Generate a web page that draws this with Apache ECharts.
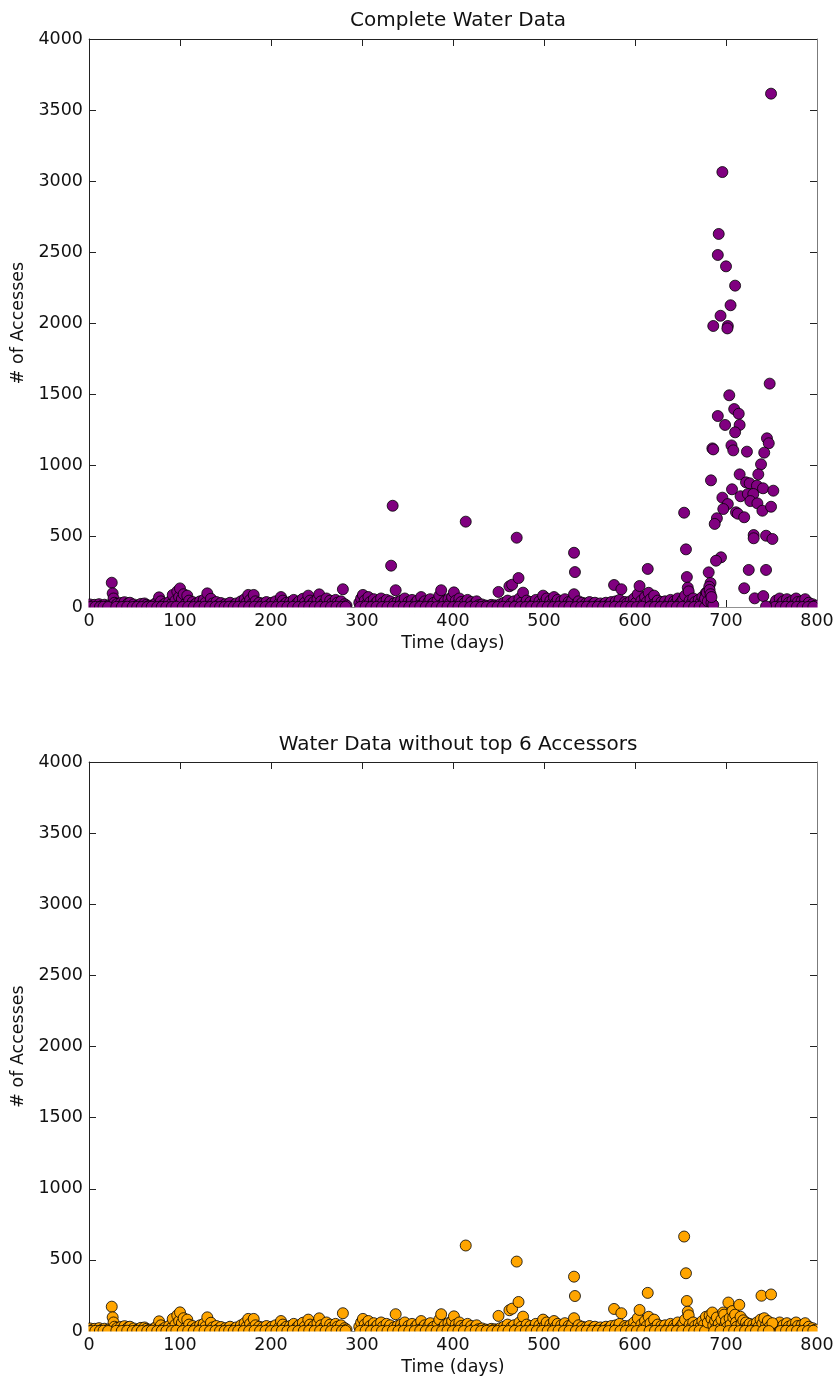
<!DOCTYPE html>
<html>
<head>
<meta charset="utf-8">
<script src="https://cdn.jsdelivr.net/npm/echarts@6/dist/echarts.min.js"></script>
<style>
  html, body { margin: 0; padding: 0; background: #fff; }
  #chart { width: 838px; height: 1381px; }
</style>
</head>
<body>
<div id="chart"></div>
<script>
// Daily access counts: [day, accesses]
const xTicks = [0, 100, 200, 300, 400, 500, 600, 700, 800];
const yTicks = [0, 500, 1000, 1500, 2000, 2500, 3000, 3500, 4000];

// Everyday traffic, present in both views
const baseline = [
  [1,18],[3,5],[6,15],[9,2],[11,20],[14,8],[17,16],[19,3],[22,12],
  [25,171],[26,96],[27,60],[28,30],[29,8],
  [31,22],[33,5],[35,28],[37,15],[39,34],[41,10],[43,25],[45,30],[47,6],[49,18],
  [52,4],[54,12],[57,22],[59,8],[61,25],[63,15],[65,5],[67,10],[70,3],[72,18],[74,30],
  [77,68],[79,40],[81,12],[84,25],[86,5],[88,35],[90,18],
  [92,85],[95,45],[97,110],[99,70],[100,131],[101,30],[102,56],[104,90],[106,20],[108,80],[110,45],[112,10],
  [114,35],[116,15],[118,25],[120,5],[122,40],[124,20],[126,50],[128,30],[130,96],[132,15],[134,58],[136,25],[138,8],
  [140,35],[142,12],[145,28],[147,5],[150,20],[152,10],[155,30],[157,3],[160,15],[162,25],[165,8],[167,40],[169,18],
  [171,55],[173,30],[175,85],[177,50],[179,20],[181,85],[183,40],[185,12],[187,30],[189,5],[191,25],[193,15],[195,35],[197,8],[199,20],
  [201,30],[203,12],[205,40],[207,5],[209,25],[211,70],[213,45],[215,18],[217,30],[219,8],[221,35],[223,20],[225,50],[227,12],[229,28],[231,40],[233,15],[235,58],[237,30],[239,10],
  [241,80],[243,45],[245,20],[247,35],[249,10],[251,55],[253,89],[255,40],[257,18],[259,30],[261,60],[263,12],[265,45],[267,25],[269,8],[271,50],[273,30],[275,15],[277,40],[279,125],[281,20],[283,10],
  [297,30],[299,60],[301,85],[303,45],[305,20],[307,70],[309,35],[311,10],[313,55],[315,25],[317,40],[319,15],[321,60],[323,30],[325,8],[327,50],[329,20],[331,40],[335,25],[337,118],[339,35],
  [341,15],[343,45],[345,25],[347,60],[349,10],[351,35],[353,20],[355,50],[357,8],[359,30],[361,45],[363,15],[365,70],[367,25],[369,40],[371,10],[373,35],[375,55],[377,20],[379,30],[381,8],[383,45],[385,80],[387,118],[389,25],
  [391,40],[393,12],[395,55],[397,30],[399,70],[401,103],[403,45],[405,20],[407,60],[409,35],[411,10],[413,30],[414,601],[416,50],[418,15],[420,35],[422,8],[424,25],[426,40],[428,12],
  [430,5],[432,18],[434,3],[436,10],[438,2],[440,8],[442,15],[444,4],[446,12],[448,6],[450,106],[452,20],
  [454,8],[456,30],[458,15],[460,45],[462,146],[464,25],[465,157],[467,40],[469,10],[470,488],[472,204],[473,60],[475,30],[477,101],[479,20],
  [481,45],[483,15],[485,35],[487,5],[489,25],[491,50],[493,12],[495,40],[497,20],[499,80],[501,35],[503,60],[505,15],[507,45],[509,25],[511,70],[513,30],[515,50],[517,10],[519,40],[521,20],[523,55],[525,12],[527,35],[529,25],[531,45],[533,382],[533,90],[534,246],[536,20],[538,40],
  [540,15],[542,30],[544,5],[546,25],[548,12],[550,35],[552,8],[554,20],[556,30],[558,5],[560,15],[562,25],[564,8],[566,18],[568,30],[570,10],[572,22],[574,35],[576,12],[577,155],[579,40],[581,20],[583,50],[585,125],[587,15],[589,35],[591,25],[593,10],[595,40],[597,20],[599,60],
  [601,30],[603,90],[605,148],[607,45],[609,20],[611,70],[613,35],[614,268],[615,100],[617,55],[619,15],[621,80],[623,30],[625,45],[627,12],[629,35],[631,20],[633,40],[635,8],[637,25],[639,50],[641,15],[643,40],[645,30],[647,60],[649,20],[651,35],[653,55],
  [654,664],[655,80],[656,406],[657,211],[658,136],[659,110],[660,45],[662,25],[664,60],[666,35],[668,15],[670,50],[672,30],[674,70],[676,45],[678,100],[679,20],
  [753,20],[755,45],[757,10],[759,60],[761,25],[763,40],[765,8],[767,55],[769,30],[771,15],[773,45],[775,20],[777,60],[779,35],[781,10],[783,40],[785,20],[787,55],[789,15],[791,30],[793,8],[795,20],[797,5],[799,10]
];

// Days with (almost) no accesses
const quietDays = [
  [2,0],[7,1],[12,0],[16,2],[21,0],[30,1],[36,0],[42,2],[48,0],[53,1],[58,0],[64,0],[69,2],[75,0],[80,1],[85,0],[91,0],[96,2],
  [103,0],[109,1],[115,0],[121,0],[127,2],[133,0],[139,1],[144,0],[149,0],[154,2],[159,0],[164,1],[170,0],[176,0],[182,2],[188,0],[194,1],
  [200,0],[206,0],[212,2],[218,0],[224,1],[230,0],[236,0],[242,2],[248,0],[254,1],[260,0],[266,0],[272,2],[278,0],[282,1],
  [298,0],[304,2],[310,0],[316,1],[322,0],[328,0],[334,2],[340,0],[346,1],[352,0],[358,0],[364,2],[370,0],[376,1],[382,0],[388,0],[394,2],
  [400,0],[406,1],[412,0],[419,0],[425,2],[431,0],[437,1],[443,0],[449,0],[455,2],[461,0],[468,1],[474,0],[480,0],[486,2],[492,0],[498,1],
  [504,0],[510,0],[516,2],[522,0],[528,1],[535,0],[541,0],[547,2],[553,0],[559,1],[565,0],[571,0],[578,2],[584,0],[590,1],[596,0],
  [602,0],[608,2],[616,0],[622,1],[628,0],[634,0],[640,2],[646,0],[652,1],[659,0],[665,0],[671,2],[677,0],
  [754,1],[760,0],[766,2],[772,0],[778,1],[784,0],[790,0],[796,2]
];

// Traffic from the six heaviest accessors (only in the complete view)
const heavyAccessors = [
  [333.7,713],[332,291],
  [677,60],[679,100],[680,40],[684,30],[686,15],
  [681,244],[683,169],[681.6,143],[682,120],[683,90],[684,70],
  [749.5,3615],[696,3063],[692,2627],[691,2479],[700,2399],[710,2263],[705,2125],[694,2051],[686,1979],[702,1979],[701.5,1962],
  [748,1573],[703.6,1491],[691,1345],[709,1394],[714,1361],[699,1282],[715,1282],[710,1230],[745,1188],[747,1153],
  [685,1117],[686,1110],[706,1138],[708,1103],[723,1094],[742,1087],[738.5,1005],[715,934],[735.5,934],[683.5,892],
  [722,878],[726,871],[734,854],[740.7,836],[706.6,829],[752,819],[716,780],[724,796],[730,796],[696,770],[726.7,746],
  [702,725],[734.5,730],[697,690],[740,678],[749.5,706],[711,667],[713,657],[720,632],[690,625],[687.6,585],
  [730.4,507],[730.4,484],[744,502],[751,479],[694.5,350],[689,326],[725,261],[744,261],[720,132],[731.5,61],[741,77],[744,5]
];

// Remaining accessors over the same late period
const lateOthers = [
  [680,60],[682,110],[684,85],[685,130],[686,40],[688,70],[689,20],[690,95],[692,50],[693,15],[695,80],[697,130],[698,115],
  [699,40],[700,70],[701,25],[702.6,200],[704,90],[705,45],[707,140],[708,95],[710,115],[711,60],[712,30],[714.6,184],
  [716,100],[717,50],[719,75],[720,20],[722,60],[724,35],[726,50],[728,15],[730,45],[732,25],[734,60],[736,30],[738,80],
  [739,248],[740,50],[742,90],[744,40],[746,70],[748,30],[749.5,257],[751,55],
  [687,0],[694,1],[703,0],[709,2],[715,0],[721,1],[727,0],[733,0],[741,2],[747,0]
];

const completeData = baseline.concat(quietDays, heavyAccessors);
const reducedData = baseline.concat(quietDays, lateOthers);

const FONT = 'DejaVu Sans';
const INK = '#111';
const FRAME = '#222';

const grids = [
  { left: 89, top: 39, width: 728, height: 568 },
  { left: 89, top: 762, width: 728, height: 569 }
];

function plain(v) { return String(v); }

function xAxes(gridIndex) {
  const common = {
    gridIndex, type: 'value', min: xTicks[0], max: xTicks[xTicks.length - 1], interval: 100,
    splitLine: { show: false },
    axisLine: { show: true, onZero: false, lineStyle: { color: FRAME, width: 1 } },
    axisTick: { show: true, inside: true, length: 7, lineStyle: { color: FRAME } }
  };
  return [
    Object.assign({}, common, {
      position: 'bottom',
      axisLabel: { color: INK, fontSize: 17.5, fontFamily: FONT, margin: 5, formatter: plain },
      name: 'Time (days)', nameLocation: 'middle', nameGap: 27,
      nameTextStyle: { color: INK, fontSize: 17.5, fontFamily: FONT }
    }),
    Object.assign({}, common, { position: 'top', axisLabel: { show: false } })
  ];
}

function yAxes(gridIndex) {
  const common = {
    gridIndex, type: 'value', min: yTicks[0], max: yTicks[yTicks.length - 1], interval: 500,
    splitLine: { show: false },
    axisLine: { show: true, onZero: false, lineStyle: { color: FRAME, width: 1 } },
    axisTick: { show: true, inside: true, length: 7, lineStyle: { color: FRAME } }
  };
  return [
    Object.assign({}, common, {
      position: 'left',
      axisLabel: { color: INK, fontSize: 17.5, fontFamily: FONT, margin: 6, formatter: plain },
      name: '# of Accesses', nameLocation: 'middle', nameGap: 60, nameRotate: 90,
      nameTextStyle: { color: INK, fontSize: 17.5, fontFamily: FONT }
    }),
    Object.assign({}, common, { position: 'right', axisLabel: { show: false } })
  ];
}

function dots(data, color, axisIndex) {
  return {
    type: 'scatter', data, xAxisIndex: axisIndex, yAxisIndex: axisIndex,
    symbol: 'circle', symbolSize: 11, clip: true,
    itemStyle: { color, borderColor: '#000', borderWidth: 0.8, opacity: 1 },
    emphasis: { disabled: true }
  };
}

// White margins that trim markers spilling past the plot frame
function frameMask(g) {
  const bottom = g.top + g.height, right = g.left + g.width;
  const fill = { fill: '#fff' };
  return [
    { type: 'rect', z: 50, silent: true, shape: { x: g.left - 6, y: bottom + 0.6, width: g.width + 12, height: 5.5 }, style: fill },
    { type: 'rect', z: 50, silent: true, shape: { x: g.left - 6, y: g.top - 6, width: 5.4, height: g.height + 12 }, style: fill },
    { type: 'rect', z: 50, silent: true, shape: { x: right + 0.6, y: g.top - 6, width: 6, height: g.height + 12 }, style: fill }
  ];
}

const chart = echarts.init(document.getElementById('chart'), null, { renderer: 'canvas' });
chart.setOption({
  animation: false,
  backgroundColor: '#fff',
  title: [
    { text: 'Complete Water Data', left: 453, top: 6, textAlign: 'center',
      textStyle: { color: INK, fontSize: 20, fontWeight: 'normal', fontFamily: FONT } },
    { text: 'Water Data without top 6 Accessors', left: 453, top: 730, textAlign: 'center',
      textStyle: { color: INK, fontSize: 20, fontWeight: 'normal', fontFamily: FONT } }
  ],
  grid: grids.map(g => Object.assign({ outerBoundsMode: 'none', containLabel: false }, g)),
  xAxis: xAxes(0).concat(xAxes(1)),
  yAxis: yAxes(0).concat(yAxes(1)),
  graphic: frameMask(grids[0]).concat(frameMask(grids[1])),
  series: [
    dots(completeData, '#800080', 0),
    dots(reducedData, '#FFA500', 2)
  ]
});
</script>
</body>
</html>
